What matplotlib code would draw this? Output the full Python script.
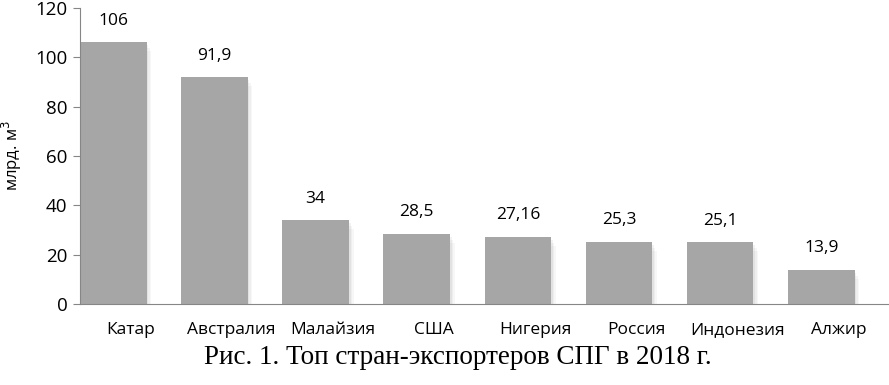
import matplotlib.pyplot as plt
import numpy as np

countries = ['Катар', 'Австралия', 'Малайзия', 'США', 'Нигерия',
             'Россия', 'Индонезия', 'Алжир']
volumes = [106, 91.9, 34, 28.5, 27.16, 25.3, 25.1, 13.9]
value_labels = ['106', '91,9', '34', '28,5', '27,16', '25,3', '25,1', '13,9']
y_ticks = [0, 20, 40, 60, 80, 100, 120]

plt.rcParams['font.family'] = ['Open Sans', 'DejaVu Sans']

fig = plt.figure(figsize=(8.89, 3.85), dpi=100)
ax = fig.add_axes([0.09, 0.21, 0.91, 0.77])

x = np.arange(len(countries))
pos = x - 0.17
width = 0.66

# soft shadow behind the bars
for k, a in enumerate([0.10, 0.08, 0.06]):
    d = 0.015 * (k + 1)
    ax.bar(pos + d, np.array(volumes) - 0.6 * (k + 1), width=width,
           bottom=-0.6 * (k + 1), color='#808080', alpha=a, zorder=1)
ax.bar(pos, volumes, width=width, color='#a6a6a6', zorder=2)

for p, v, lab in zip(pos, volumes, value_labels):
    ax.text(p, v + 5.5, lab, ha='center', va='bottom', fontsize=12.5,
            color='#000000')

ax.set_xlim(-0.5, 7.5)
ax.set_ylim(0, 120)
ax.set_yticks(y_ticks)
ax.set_xticks(x)
ax.set_xticklabels(countries)
ax.tick_params(axis='y', length=5, color='#868686', labelsize=13.5, pad=4)
ax.tick_params(axis='x', length=0, labelsize=12.5, pad=13)
for s in ['top', 'right']:
    ax.spines[s].set_visible(False)
for s in ['left', 'bottom']:
    ax.spines[s].set_color('#868686')
ax.set_ylabel('млрд. м$^3$', fontsize=12, labelpad=8)

fig.text(0.515, 0.072, 'Рис. 1. Топ стран-экспортеров СПГ в 2018 г.',
         ha='center', va='center', fontsize=19.5,
         family=['Liberation Serif', 'DejaVu Serif'])

fig.savefig('out.png', dpi=100)
